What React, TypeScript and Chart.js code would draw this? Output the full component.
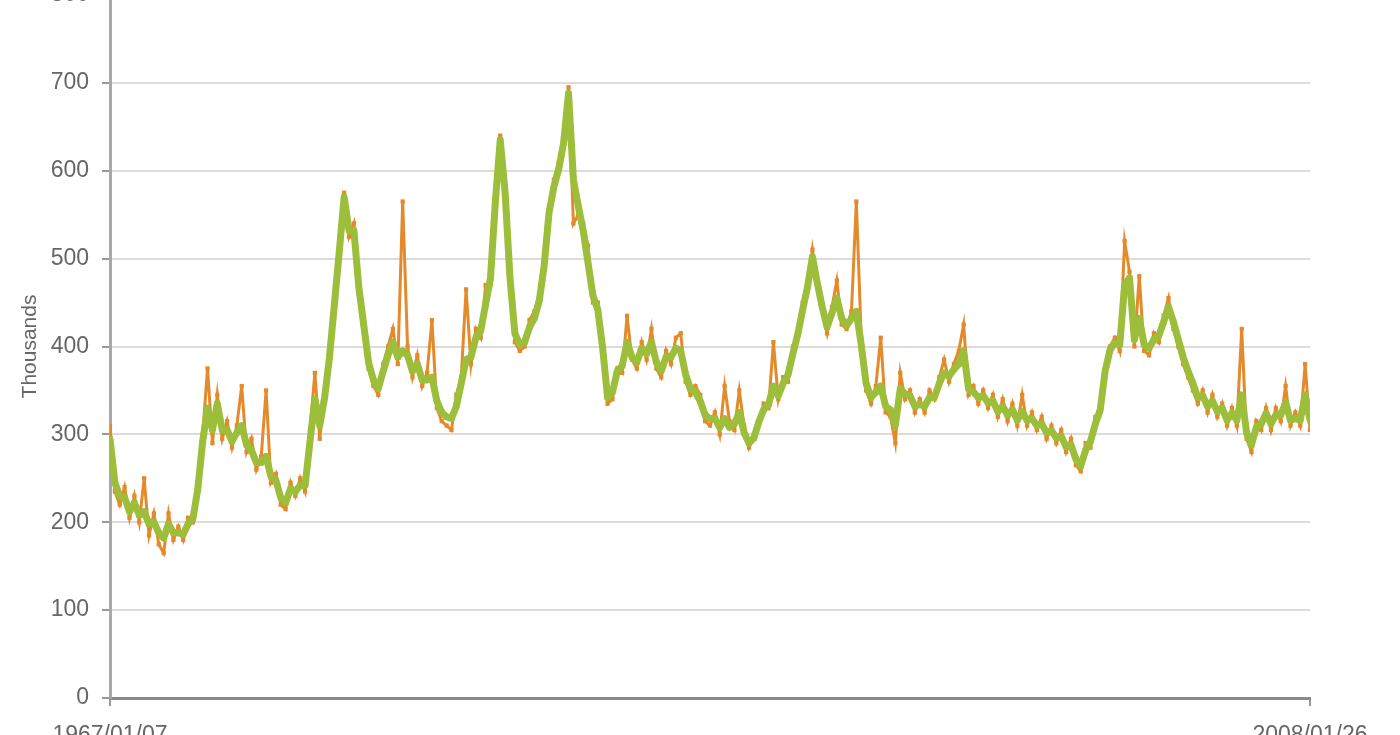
import React, { useEffect, useRef } from "react";
import { Chart, registerables } from "chart.js";

Chart.register(...registerables);

// Weekly series sampled roughly every two months, 1967/01 .. 2008/01 (thousands)
const weeklyClaims: number[] = [
  310, 235, 220, 240, 205, 230, 200, 250, 185, 210,
  175, 165, 210, 180, 195, 180, 205, 200, 230, 300,
  375, 290, 345, 295, 315, 285, 310, 355, 280, 295,
  260, 275, 350, 245, 255, 220, 215, 245, 230, 250,
  235, 305, 370, 295, 350, 380, 440, 500, 575, 525,
  540, 460, 430, 375, 355, 345, 380, 400, 420, 380,
  565, 400, 365, 390, 355, 370, 430, 330, 315, 310,
  305, 345, 365, 465, 380, 420, 410, 470, 470, 560,
  640, 580, 470, 405, 395, 400, 430, 440, 460, 500,
  560, 590, 610, 640, 695, 540, 550, 540, 515, 450,
  450, 390, 335, 340, 375, 370, 435, 385, 375, 405,
  385, 420, 375, 365, 395, 380, 410, 415, 360, 345,
  355, 345, 315, 310, 325, 300, 355, 315, 305, 350,
  310, 285, 300, 310, 335, 330, 405, 340, 365, 360,
  400, 410, 450, 465, 510, 470, 440, 415, 445, 475,
  425, 420, 440, 565, 410, 350, 335, 355, 410, 325,
  320, 290, 370, 340, 350, 325, 340, 325, 350, 340,
  365, 385, 360, 380, 395, 425, 345, 355, 335, 350,
  330, 345, 320, 340, 315, 335, 310, 345, 310, 325,
  305, 320, 295, 310, 290, 305, 280, 295, 265, 258,
  290, 285, 320, 325, 365, 400, 410, 395, 520, 485,
  400, 480, 395, 390, 415, 405, 435, 455, 420, 400,
  380, 365, 350, 335, 350, 325, 345, 320, 335, 310,
  330, 310, 420, 295, 280, 315, 305, 330, 305, 330,
  315, 355, 310, 325, 310, 380, 305,
];

const movingAverage: number[] = [
  295, 245, 230, 228, 212, 222, 208, 212, 198, 200,
  188, 182, 198, 188, 188, 186, 198, 204, 238, 292,
  330, 305, 335, 305, 305, 292, 302, 310, 288, 282,
  268, 268, 275, 252, 248, 228, 222, 238, 235, 242,
  242, 292, 340, 310, 342, 388, 448, 508, 570, 532,
  532, 468, 425, 382, 362, 352, 372, 390, 405, 388,
  395, 390, 372, 380, 362, 362, 365, 338, 325, 320,
  318, 332, 358, 385, 388, 410, 418, 448, 478, 565,
  635, 575, 478, 415, 402, 405, 422, 432, 452, 492,
  552, 582, 602, 632, 688, 590, 560, 532, 495, 458,
  442, 398, 342, 348, 372, 378, 405, 388, 382, 398,
  392, 405, 382, 372, 388, 388, 398, 395, 368, 352,
  348, 338, 322, 318, 318, 308, 318, 308, 312, 325,
  302, 290, 296, 314, 328, 334, 355, 344, 358, 368,
  392, 414, 442, 468, 502, 472, 445, 422, 438, 455,
  432, 424, 432, 440, 402, 358, 342, 348, 355, 332,
  328, 310, 352, 346, 344, 332, 334, 332, 342, 342,
  358, 370, 366, 374, 380, 395, 352, 348, 342, 344,
  336, 338, 326, 332, 322, 328, 316, 326, 316, 318,
  310, 312, 302, 304, 296, 298, 286, 288, 272, 264,
  282, 292, 312, 328, 372, 396, 404, 402, 470, 478,
  408, 432, 402, 398, 408, 412, 428, 445, 428, 408,
  388, 372, 358, 342, 344, 332, 338, 326, 330, 316,
  324, 316, 345, 302, 288, 308, 312, 324, 312, 322,
  322, 336, 316, 318, 316, 345, 316,
];

const xTickLabels: string[] = ["1967/01/07", "2008/01/26"];
const yTitle = "Thousands";

const ORANGE = "#E38A2A";
const GREEN = "#9CBE3A";
const FONT = "'Liberation Sans', Arial, sans-serif";

export default function App() {
  const ref = useRef<HTMLCanvasElement | null>(null);

  useEffect(() => {
    document.body.style.margin = "0";
    const canvas = ref.current;
    if (!canvas) return;
    const last = weeklyClaims.length - 1;
    const chart = new Chart(canvas, {
      type: "line",
      data: {
        datasets: [
          {
            label: "Average",
            data: movingAverage.map((v, i) => ({ x: i, y: v })),
            borderColor: GREEN,
            backgroundColor: GREEN,
            borderWidth: 7,
            pointStyle: "rect",
            pointRadius: 4,
            pointBorderWidth: 0,
            borderJoinStyle: "round",
            tension: 0,
            order: 0,
          },
          {
            label: "Weekly",
            data: weeklyClaims.map((v, i) => ({ x: i, y: v })),
            borderColor: ORANGE,
            backgroundColor: ORANGE,
            borderWidth: 3,
            pointStyle: "rect",
            pointRadius: 3,
            pointBorderWidth: 0,
            tension: 0,
            order: 1,
          },
        ],
      },
      options: {
        animation: false,
        responsive: false,
        devicePixelRatio: 1,
        layout: { padding: { top: 35, right: 90, bottom: 0, left: 0 } },
        plugins: { legend: { display: false }, tooltip: { enabled: false } },
        scales: {
          x: {
            type: "linear",
            min: 0,
            max: last,
            afterBuildTicks: (s: any) => {
              s.ticks = [{ value: 0 }, { value: last }];
            },
            afterFit: (s: any) => {
              s.height = 62;
            },
            ticks: {
              autoSkip: false,
              maxRotation: 0,
              minRotation: 0,
              padding: 16,
              color: "#666",
              font: { family: FONT, size: 23 },
              callback: (v: any) => (v === 0 ? xTickLabels[0] : xTickLabels[1]),
            },
            grid: {
              drawOnChartArea: false,
              drawTicks: true,
              tickLength: 8,
              tickColor: "#999",
              lineWidth: 2,
            },
            border: { display: true, color: "#8a8a8a", width: 3 },
          },
          y: {
            min: 0,
            max: 800,
            afterFit: (s: any) => {
              s.width = 110;
            },
            ticks: {
              stepSize: 100,
              padding: 13,
              color: "#666",
              font: { family: FONT, size: 23 },
            },
            grid: {
              color: "#dcdcdc",
              lineWidth: 2,
              tickLength: 8,
              tickColor: "#999",
            },
            border: { display: true, color: "#a8a8a8", width: 3 },
            title: {
              display: true,
              text: yTitle,
              color: "#666",
              font: { family: FONT, size: 21 },
              padding: { top: 18, bottom: 0 },
            },
          },
        },
      },
    });
    return () => chart.destroy();
  }, []);

  return (
    <div style={{ position: "absolute", left: 0, top: -40, width: 1400, height: 800 }}>
      <canvas ref={ref} width={1400} height={800} style={{ width: 1400, height: 800 }} />
    </div>
  );
}
